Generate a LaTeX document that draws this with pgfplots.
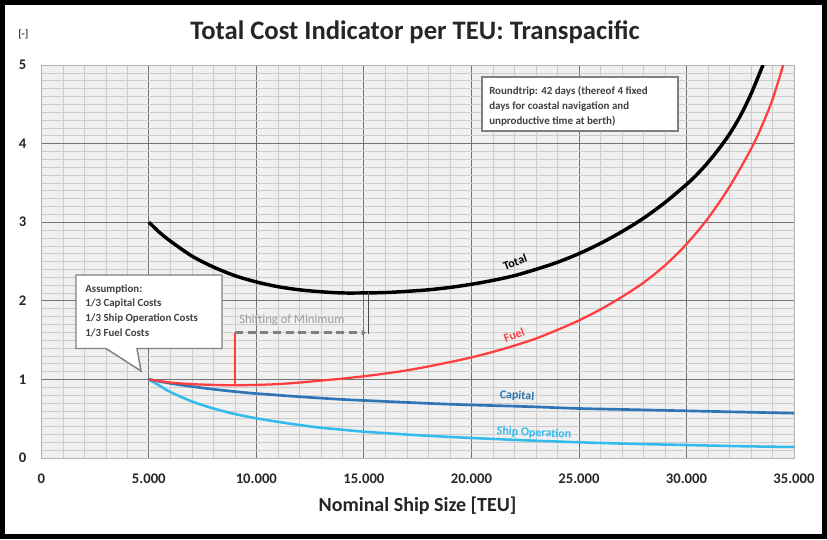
\documentclass[border=0pt]{standalone}
\usepackage{pgfplots}
\pgfplotsset{compat=1.18}
\usepackage{fontspec}
\setmainfont{Carlito}
\usetikzlibrary{arrows.meta}

\definecolor{fuelred}{HTML}{FF3F3F}
\definecolor{capblue}{HTML}{2E75B6}
\definecolor{shipblue}{HTML}{33BBEE}

\begin{document}
\begin{tikzpicture}
\begin{axis}[
  at={(0,0)}, anchor=south west,
  scale only axis, width=564.5pt, height=294.75pt,
  xmin=0, xmax=35000, ymin=0, ymax=5,
  scaled x ticks=false, scaled y ticks=false,
  xtick={0,5000,...,35000}, ytick={0,1,2,3,4,5},
  xticklabels={0,5.000,10.000,15.000,20.000,25.000,30.000,35.000},
  yticklabels={0,1,2,3,4,5},
  minor x tick num=4, minor y tick num=9,
  grid=both,
  major grid style={draw=black!55, line width=0.6pt},
  minor grid style={draw=black!20, line width=0.4pt},
  axis background/.style={fill=black!6},
  axis line style={draw=black!30, line width=0.6pt},
  major tick length=0pt, minor tick length=0pt,
  /pgf/number format/assume math mode=true,
  tick label style={font=\bfseries\fontsize{11}{13}\selectfont, text=black!85},
  xticklabel style={anchor=center, yshift=-15.75pt},
  yticklabel style={anchor=center, xshift=-14.1pt},
]
% Ship Operation
\addplot[shipblue, line width=1.9pt, smooth] coordinates {
  (5000,1.00) (5500,0.92) (6000,0.84) (7000,0.72) (8000,0.63) (9000,0.56)
  (10000,0.505) (11000,0.46) (12000,0.42) (13000,0.385) (14000,0.36)
  (15000,0.335) (17500,0.29) (20000,0.255) (22500,0.225) (25000,0.20)
  (27500,0.18) (30000,0.165) (32500,0.15) (35000,0.14)
};
% Capital
\addplot[capblue, line width=2pt, smooth] coordinates {
  (5000,1.00) (6000,0.95) (7000,0.91) (8000,0.875) (9000,0.845)
  (10000,0.82) (12000,0.78) (14000,0.745) (16000,0.72) (18000,0.695)
  (20000,0.675) (22500,0.655) (25000,0.63) (27500,0.615) (30000,0.60)
  (32500,0.585) (35000,0.57)
};
% Fuel
\addplot[fuelred, line width=1.7pt, smooth] coordinates {
  (5000,1.00) (6000,0.96) (7000,0.94) (8000,0.93) (9000,0.925)
  (10000,0.93) (11000,0.94) (12000,0.96) (13000,0.985) (14000,1.01)
  (15000,1.04) (16000,1.075) (17000,1.115) (18000,1.165) (19000,1.22)
  (20000,1.28) (21000,1.35) (22000,1.43) (23000,1.52) (24000,1.63)
  (25000,1.75) (26000,1.89) (27000,2.05) (28000,2.23) (29000,2.45)
  (30000,2.72) (31000,3.05) (32000,3.45) (33000,3.93) (33500,4.22)
  (34000,4.56) (34500,5.00)
};
% Total
\addplot[black, line width=2.6pt, smooth] coordinates {
  (5000,3.00) (5500,2.87) (6000,2.76) (7000,2.57) (8000,2.43) (9000,2.32)
  (10000,2.24) (11000,2.18) (12000,2.14) (13000,2.115) (14000,2.10)
  (15000,2.10) (16000,2.105) (17000,2.12) (18000,2.14) (19000,2.17)
  (20000,2.21) (21000,2.26) (22000,2.32) (23000,2.40) (24000,2.49)
  (25000,2.60) (26000,2.73) (27000,2.88) (28000,3.05) (29000,3.25)
  (30000,3.48) (30500,3.61) (31000,3.76) (31500,3.93) (32000,4.12)
  (32500,4.35) (33000,4.63) (33500,4.96) (33560,5.00)
};
\end{axis}

% annotations in image pixel units (origin top left)
\begin{scope}[x=0.75pt, y=-0.75pt, shift={(-30.975pt,343.5pt)}]
  \draw[line width=3.75pt] (2.5,2.5) rectangle (824.5,536.5);

  \node[anchor=base, font=\bfseries\fontsize{20}{24}\selectfont, text=black!85]
    at (415,40) {Total Cost Indicator per TEU: Transpacific};
  \node[anchor=base west, inner sep=0, font=\bfseries\fontsize{8}{10}\selectfont, text=black!75]
    at (18,38) {[-]};
  \node[anchor=base, font=\bfseries\fontsize{15}{18}\selectfont, text=black!85]
    at (417.5,511) {Nominal Ship Size [TEU]};

  % roundtrip box
  \draw[black!50, line width=1.1pt, fill=white] (482,77) rectangle (678,131);
  \begin{scope}[every node/.style={anchor=base west, inner sep=0,
      font=\bfseries\fontsize{8.2}{10}\selectfont, text=black!75}]
    \node at (489,94.5) {Roundtrip: 42 days (thereof 4 fixed};
    \node at (489,109.5) {days for coastal navigation and};
    \node at (489,124.5) {unproductive time at berth)};
  \end{scope}

  % assumption callout
  \draw[black!50, line width=1.1pt, fill=white]
    (76,275) -- (222,275) -- (222,348.5) -- (137,348.5) -- (141,371)
    -- (106,348.5) -- (76,348.5) -- cycle;
  \begin{scope}[every node/.style={anchor=base west, inner sep=0,
      font=\bfseries\fontsize{8.2}{10}\selectfont, text=black!75}]
    \node at (85,292) {Assumption:};
    \node at (85,306.8) {1/3 Capital Costs};
    \node at (85,321.6) {1/3 Ship Operation Costs};
    \node at (85,336.4) {1/3 Fuel Costs};
  \end{scope}

  % shifting of minimum
  \node[anchor=base west, inner sep=0, font=\fontsize{9.5}{11}\selectfont, text=black!38]
    at (239,324) {Shifting of Minimum};
  \draw[fuelred, line width=1.2pt] (235,385) -- (235,332.7);
  \draw[black!50, line width=2pt, dash pattern=on 6pt off 3.5pt,
        -{Latex[length=4pt,width=4pt]}] (235,332.7) -- (367,332.7);
  \draw[black!70, line width=1.1pt] (368.5,292) -- (368.5,334);

  % curve labels
  \begin{scope}[every node/.style={font=\bfseries\fontsize{9}{11}\selectfont}]
    \node[rotate=20, text=black] at (515,262) {Total};
    \node[rotate=20, text=fuelred] at (514,335) {Fuel};
    \node[rotate=-4, text=capblue] at (517,396) {Capital};
    \node[rotate=-3, text=shipblue] at (534,433) {Ship Operation};
  \end{scope}
\end{scope}
\end{tikzpicture}
\end{document}
